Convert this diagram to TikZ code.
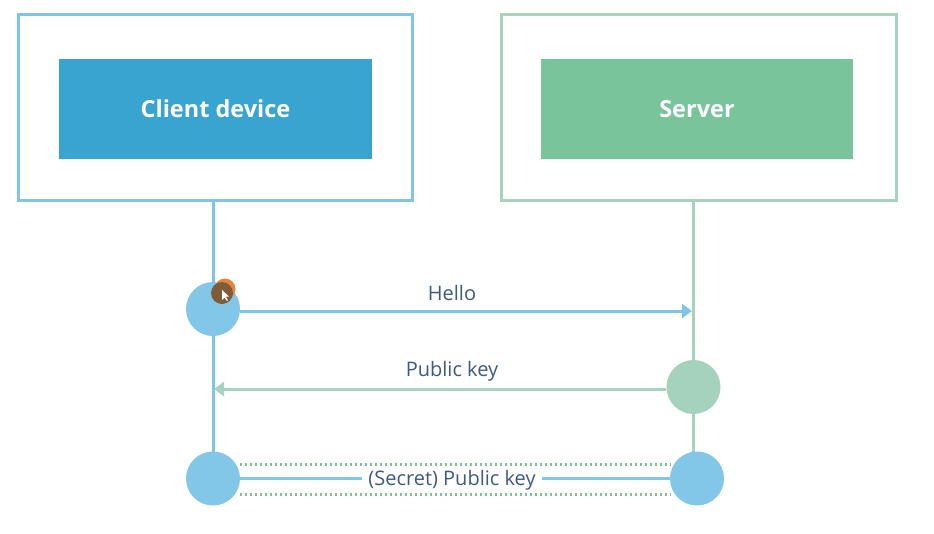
\documentclass[tikz,border=0pt]{standalone}
\usepackage{fontspec}
\setmainfont{Open Sans}
\usetikzlibrary{arrows.meta}
\definecolor{lbstroke}{RGB}{128,196,232}
\definecolor{clientfill}{RGB}{58,164,209}
\definecolor{serverfill}{RGB}{122,196,156}
\definecolor{gstroke}{RGB}{166,211,190}
\definecolor{cblue}{RGB}{130,198,232}
\definecolor{cgreen}{RGB}{165,210,188}
\definecolor{txt}{RGB}{62,90,130}
\definecolor{gdot}{RGB}{125,195,150}
\definecolor{cursorbrown}{RGB}{125,92,58}
\definecolor{cursororange}{RGB}{235,130,60}
\tikzset{
  outerbox/.style={draw, line width=3pt, minimum width=394pt, minimum height=186pt, inner sep=0pt},
  innerbox/.style={minimum width=312pt, minimum height=100pt, inner sep=0pt, text=white, font=\fontsize{23.5}{28}\selectfont\bfseries},
  dotc/.style={circle, minimum size=54pt, inner sep=0pt},
  life/.style={line width=3pt},
  msg/.style={line width=3pt, -{Triangle[length=10pt,width=14pt]}},
  lbl/.style={text=txt, font=\fontsize{20}{24}\selectfont, inner sep=2pt},
  dots/.style={gdot, line width=3pt, dash pattern=on 2pt off 3pt}
}
\begin{document}
\begin{tikzpicture}[x=1pt,y=-1pt]
\useasboundingbox (0,0) rectangle (934,533);
\fill[white] (0,0) rectangle (934,533);
% boxes
\node[outerbox, draw=lbstroke] (cout) at (215,107) {};
\node[outerbox, draw=gstroke, minimum width=395pt] (sout) at (698.5,107) {};
\node[innerbox, fill=clientfill, minimum width=313pt] (client) at (215.5,109) {Client device};
\node[innerbox, fill=serverfill] (server) at (697,109) {Server};
% circle positions
\coordinate (lt) at (213,309);
\coordinate (rg) at (693.5,387);
\coordinate (lb) at (213,478.5);
\coordinate (rb) at (697,478.5);
% lifelines
\draw[life, lbstroke] (cout.south -| lt) -- (lb);
\draw[life, gstroke] (sout.south -| rg) -- (rg |- rb);
% circles
\node[dotc, fill=cblue] (c1) at (lt) {};
\node[dotc, fill=cgreen] (c2) at (rg) {};
\node[dotc, fill=cblue] (c3) at (lb) {};
\node[dotc, fill=cblue] (c4) at (rb) {};
% messages
\coordinate (hend) at (692,311);
\draw[msg, lbstroke] (c1.east |- hend) -- (hend);
\node[lbl] (hello) at (452,293) {Hello};
\coordinate (pend) at (214,389);
\draw[msg, gstroke] (c2.west |- pend) -- (pend);
\node[lbl] (pk) at (452,371) {Public key};
% bottom exchange
\coordinate (d1a) at (240,464);
\coordinate (d1b) at (671,464);
\coordinate (d2a) at (240,494);
\coordinate (d2b) at (671,494);
\draw[dots] (d1a) -- (d1b);
\draw[dots] (d2a) -- (d2b);
\draw[life, cblue] (c3.east) -- (c4.west);
\node[lbl, fill=white, inner xsep=6pt] (spk) at (452,480) {(Secret) Public key};
% cursor highlight
\fill[cursororange] (225,289) circle (10.5pt);
\fill[cursorbrown] (222,293) circle (11pt);
\fill[white] (222,290) -- (222,300) -- (224.5,297.5) -- (227,301) -- (228,300.3) -- (225.8,296.8) -- (229,296.5) -- cycle;
\end{tikzpicture}
\end{document}
